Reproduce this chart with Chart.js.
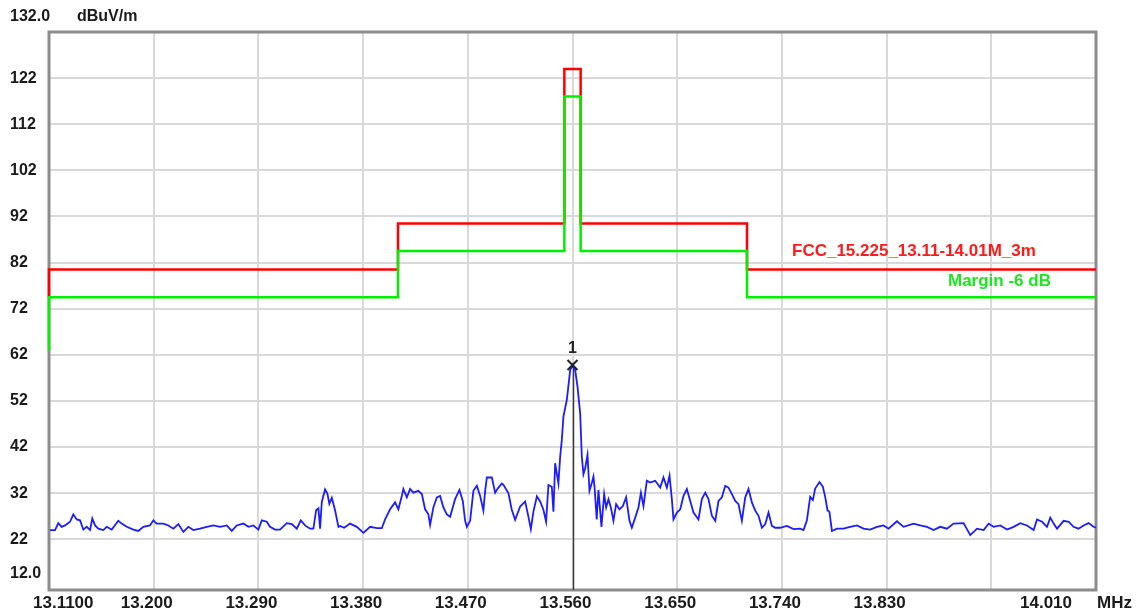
<!DOCTYPE html>
<html>
<head>
<meta charset="utf-8">
<script src="https://cdn.jsdelivr.net/npm/chart.js@4.4.1/dist/chart.umd.min.js"></script>
<style>
  html, body { margin: 0; padding: 0; background: #fff; }
  #wrap { width: 1138px; height: 616px; }
</style>
</head>
<body>
<div id="wrap"><canvas id="spec" width="1138" height="616"></canvas></div>
<script>
// Varredura 13.11 - 14.01 MHz com limite FCC 15.225 e margem de -6 dB

const xTicks = [13.11, 13.20, 13.29, 13.38, 13.47, 13.56, 13.65, 13.74, 13.83, 13.92, 14.01];
const xTickLabels = ['13.1100', '13.200', '13.290', '13.380', '13.470', '13.560', '13.650', '13.740', '13.830', '', '14.010'];
const yTicks = [22, 32, 42, 52, 62, 72, 82, 92, 102, 112, 122];
const yTickLabels = ['22', '32', '42', '52', '62', '72', '82', '92', '102', '112', '122'];
const yTopLabel = '132.0';
const yBottomLabel = '12.0';
const yUnit = 'dBuV/m';
const xUnit = 'MHz';

// limite (degraus)
const limitFreq  = [13.11, 13.11, 13.41, 13.553, 13.567, 13.71, 14.01];
const limitLevel = [74.5, 80.5, 90.5, 124, 90.5, 80.5, 80.5];
const marginFreq  = [13.11, 13.11, 13.41, 13.553, 13.567, 13.71, 14.01];
const marginLevel = [63, 74.5, 84.5, 118, 84.5, 74.5, 74.5];
const limitName = 'FCC_15.225_13.11-14.01M_3m';
const marginName = 'Margin -6 dB';

const traceFreq = [
  13.1109, 13.1152, 13.1180, 13.1209, 13.1238, 13.1281, 13.1309, 13.1338, 13.1367, 13.1395,
  13.1424, 13.1453, 13.1472, 13.1496, 13.1524, 13.1567, 13.1596, 13.1639, 13.1696, 13.1725,
  13.1768, 13.1825, 13.1868, 13.1911, 13.1968, 13.1997, 13.2026, 13.2083, 13.2126, 13.2169,
  13.2212, 13.2255, 13.2298, 13.2341, 13.2398, 13.2456, 13.2513, 13.2570, 13.2628, 13.2671,
  13.2714, 13.2771, 13.2814, 13.2857, 13.2900, 13.2929, 13.2972, 13.3000, 13.3043, 13.3086,
  13.3144, 13.3187, 13.3230, 13.3264, 13.3301, 13.3344, 13.3373, 13.3396, 13.3416, 13.3430,
  13.3445, 13.3473, 13.3493, 13.3510, 13.3531, 13.3559, 13.3588, 13.3602, 13.3637, 13.3688,
  13.3746, 13.3803, 13.3860, 13.3918, 13.3961, 13.3989, 13.4032, 13.4075, 13.4103, 13.4133,
  13.4146, 13.4176, 13.4204, 13.4232, 13.4275, 13.4305, 13.4333, 13.4361, 13.4376, 13.4404,
  13.4434, 13.4462, 13.4490, 13.4520, 13.4548, 13.4591, 13.4628, 13.4657, 13.4677, 13.4692,
  13.4720, 13.4748, 13.4778, 13.4806, 13.4834, 13.4849, 13.4864, 13.4907, 13.4935, 13.4963,
  13.4993, 13.5006, 13.5049, 13.5078, 13.5107, 13.5150, 13.5193, 13.5221, 13.5242, 13.5264,
  13.5294, 13.5322, 13.5350, 13.5373, 13.5393, 13.5422, 13.5436, 13.5451, 13.5479, 13.5494,
  13.5508, 13.5522, 13.5551, 13.5580, 13.5600, 13.5623, 13.5643, 13.5666, 13.5680, 13.5694,
  13.5709, 13.5729, 13.5746, 13.5767, 13.5780, 13.5790, 13.5808, 13.5823, 13.5849, 13.5872,
  13.5889, 13.5909, 13.5930, 13.5952, 13.5975, 13.6004, 13.6033, 13.6061, 13.6090, 13.6110,
  13.6139, 13.6167, 13.6188, 13.6210, 13.6239, 13.6268, 13.6311, 13.6354, 13.6382, 13.6411,
  13.6434, 13.6454, 13.6468, 13.6497, 13.6526, 13.6554, 13.6583, 13.6612, 13.6640, 13.6683,
  13.6712, 13.6741, 13.6769, 13.6798, 13.6827, 13.6855, 13.6884, 13.6913, 13.6941, 13.6970,
  13.6999, 13.7027, 13.7056, 13.7085, 13.7113, 13.7142, 13.7171, 13.7199, 13.7228, 13.7257,
  13.7285, 13.7314, 13.7342, 13.7385, 13.7443, 13.7500, 13.7557, 13.7586, 13.7615, 13.7643,
  13.7666, 13.7686, 13.7723, 13.7752, 13.7772, 13.7792, 13.7809, 13.7830, 13.7873, 13.7930,
  13.7987, 13.8045, 13.8102, 13.8159, 13.8217, 13.8274, 13.8317, 13.8389, 13.8446, 13.8532,
  13.8589, 13.8647, 13.8704, 13.8761, 13.8819, 13.8876, 13.8962, 13.9019, 13.9077, 13.9134,
  13.9177, 13.9220, 13.9277, 13.9335, 13.9392, 13.9449, 13.9507, 13.9564, 13.9593, 13.9636,
  13.9679, 13.9707, 13.9736, 13.9765, 13.9822, 13.9865, 13.9907, 13.9950, 13.9993, 14.0036,
  14.0079, 14.0100
];
const traceLevel = [
  24.0, 24.0, 25.5, 24.7, 25.0, 25.8, 27.4, 26.3, 26.1, 24.1,
  24.7, 24.0, 26.5, 25.0, 24.3, 24.0, 24.7, 24.1, 26.0, 25.4,
  24.7, 24.1, 23.8, 24.7, 25.0, 26.1, 25.4, 25.4, 25.0, 24.3,
  25.3, 23.6, 24.7, 24.0, 24.3, 24.7, 25.0, 24.7, 25.0, 23.8,
  25.0, 25.4, 24.7, 25.0, 24.1, 26.1, 25.8, 24.7, 24.1, 24.1,
  25.5, 25.3, 24.3, 26.1, 25.0, 24.3, 24.3, 28.3, 28.7, 24.3,
  30.1, 32.8, 31.9, 29.7, 31.0, 28.3, 24.7, 24.9, 24.5, 25.4,
  24.7, 23.4, 24.7, 24.4, 24.4, 26.3, 28.5, 30.0, 28.5, 31.4,
  32.9, 31.1, 32.9, 32.1, 32.5, 31.8, 28.5, 27.4, 25.1, 28.9,
  31.1, 31.4, 28.9, 27.4, 26.9, 30.7, 32.7, 30.3, 26.0, 24.7,
  26.0, 32.5, 33.6, 31.4, 28.2, 32.5, 35.4, 35.4, 32.1, 33.2,
  34.1, 33.8, 32.0, 28.4, 26.2, 29.1, 30.2, 26.9, 24.2, 28.0,
  31.3, 30.2, 28.4, 25.8, 33.8, 33.4, 28.0, 38.5, 34.1, 39.9,
  43.5, 48.6, 52.2, 58.7, 59.8, 58.7, 55.1, 49.3, 39.9, 36.1,
  37.4, 40.3, 32.5, 34.3, 35.6, 33.2, 26.3, 32.7, 24.7, 31.8,
  28.9, 30.7, 28.9, 26.0, 29.6, 28.5, 29.2, 31.1, 26.0, 24.5,
  26.7, 28.9, 32.1, 29.2, 34.7, 34.3, 34.7, 33.2, 35.4, 33.2,
  35.8, 30.7, 26.3, 27.8, 28.5, 31.4, 32.9, 30.3, 27.8, 26.3,
  30.7, 32.1, 30.7, 27.1, 26.0, 30.3, 31.1, 33.6, 33.2, 31.8,
  30.3, 29.6, 26.0, 31.1, 32.9, 30.0, 28.2, 27.1, 24.5, 25.3,
  27.8, 24.9, 24.5, 24.5, 24.9, 24.2, 24.3, 24.0, 26.1, 31.2,
  30.5, 33.0, 34.4, 33.4, 31.2, 28.3, 27.9, 23.8, 24.3, 24.3,
  24.7, 25.0, 24.3, 24.1, 24.7, 25.0, 24.3, 25.9, 24.7, 25.4,
  25.0, 24.7, 24.0, 24.7, 24.3, 25.4, 25.5, 22.9, 24.3, 24.0,
  25.4, 24.7, 25.0, 24.1, 24.7, 25.5, 25.0, 24.0, 26.3, 25.8,
  24.7, 26.7, 25.4, 24.3, 26.0, 25.8, 24.7, 24.3, 25.0, 25.5,
  24.7, 24.5
];

const markerFreq = 13.56;
const markerLevel = 59.8;
const markerLabel = '1';

function pts(xs, ys) {
  return xs.map((x, i) => ({ x, y: ys[i] }));
}

const FONT = "'Liberation Sans', Arial, sans-serif";

const decor = {
  id: 'decor',
  beforeDatasetsDraw(chart) {
    const { ctx, chartArea: a, scales } = chart;
    ctx.save();
    // moldura
    ctx.strokeStyle = '#8c8c8c';
    ctx.lineWidth = 3;
    ctx.strokeRect(a.left, a.top, a.right - a.left, a.bottom - a.top);
    // linha do marcador
    const mx = Math.round(scales.x.getPixelForValue(markerFreq)) + 0.5;
    const my = scales.y.getPixelForValue(markerLevel);
    ctx.strokeStyle = '#3a3a3a';
    ctx.lineWidth = 1.5;
    ctx.beginPath();
    ctx.moveTo(mx, my);
    ctx.lineTo(mx, a.bottom);
    ctx.stroke();
    ctx.restore();
  },
  afterDatasetsDraw(chart) {
    const { ctx, scales } = chart;
    const mx = scales.x.getPixelForValue(markerFreq);
    const my = scales.y.getPixelForValue(markerLevel);
    ctx.save();
    ctx.strokeStyle = '#222';
    ctx.lineWidth = 2;
    ctx.beginPath();
    ctx.moveTo(mx - 5, my - 5); ctx.lineTo(mx + 5, my + 5);
    ctx.moveTo(mx + 5, my - 5); ctx.lineTo(mx - 5, my + 5);
    ctx.stroke();
    ctx.fillStyle = '#222';
    ctx.font = 'bold 16px ' + FONT;
    ctx.textAlign = 'center';
    ctx.textBaseline = 'middle';
    ctx.fillText(markerLabel, mx, my - 16);
    ctx.restore();
  },
  afterDraw(chart) {
    const { ctx, chartArea: a, scales } = chart;
    ctx.save();
    ctx.fillStyle = '#1a1a1a';
    ctx.textBaseline = 'middle';

    // eixo Y
    ctx.font = 'bold 16px ' + FONT;
    ctx.textAlign = 'left';
    yTicks.forEach((v, i) => ctx.fillText(yTickLabels[i], 10, scales.y.getPixelForValue(v)));
    ctx.fillText(yTopLabel, 10, a.top - 15);
    ctx.fillText(yUnit, 77, a.top - 15);
    ctx.fillText(yBottomLabel, 10, a.bottom - 16);

    // eixo X
    ctx.font = 'bold 17px ' + FONT;
    const ly = a.bottom + 13;
    xTicks.forEach((v, i) => {
      const t = xTickLabels[i];
      if (!t) return;
      const px = scales.x.getPixelForValue(v);
      if (i === 0) { ctx.textAlign = 'left'; ctx.fillText(t, px - 16, ly); }
      else if (i === xTicks.length - 1) { ctx.textAlign = 'right'; ctx.fillText(t, px - 24, ly); }
      else { ctx.textAlign = 'center'; ctx.fillText(t, px - 7, ly); }
    });
    ctx.textAlign = 'left';
    ctx.fillText(xUnit, a.right + 1, ly);

    // nomes das linhas
    ctx.font = 'bold 17px ' + FONT;
    ctx.fillStyle = '#ff1a1a';
    ctx.fillText(limitName, 792, 251);
    ctx.fillStyle = '#1ee61e';
    ctx.fillText(marginName, 948, 281);
    ctx.restore();
  }
};

new Chart(document.getElementById('spec').getContext('2d'), {
  type: 'line',
  data: {
    datasets: [
      {
        label: 'trace',
        data: pts(traceFreq, traceLevel),
        borderColor: '#1c1cff',
        borderWidth: 1.8,
        pointRadius: 0,
        tension: 0,
        order: 0,
        clip: 3
      },
      {
        label: marginName,
        data: pts(marginFreq, marginLevel),
        borderColor: '#00f000',
        borderWidth: 2.5,
        pointRadius: 0,
        stepped: true,
        order: 1,
        clip: 4
      },
      {
        label: limitName,
        data: pts(limitFreq, limitLevel),
        borderColor: '#ff0000',
        borderWidth: 2.5,
        pointRadius: 0,
        stepped: true,
        order: 2,
        clip: 4
      }
    ]
  },
  options: {
    responsive: false,
    animation: false,
    events: [],
    layout: { padding: { top: 32, right: 42, left: 0, bottom: 0 } },
    plugins: { legend: { display: false }, tooltip: { enabled: false } },
    scales: {
      x: {
        type: 'linear',
        min: 13.11,
        max: 14.01,
        afterBuildTicks: s => { s.ticks = xTicks.map(v => ({ value: v })); },
        afterFit: s => { s.height = 26; },
        grid: { color: '#d9d9d9', lineWidth: 2, drawTicks: false },
        border: { display: false },
        ticks: { display: false }
      },
      y: {
        type: 'linear',
        min: 11,
        max: 132,
        afterBuildTicks: s => { s.ticks = yTicks.map(v => ({ value: v })); },
        afterFit: s => { s.width = 49; },
        grid: { color: '#d9d9d9', lineWidth: 2, drawTicks: false },
        border: { display: false },
        ticks: { display: false }
      }
    }
  },
  plugins: [decor]
});
</script>
</body>
</html>
